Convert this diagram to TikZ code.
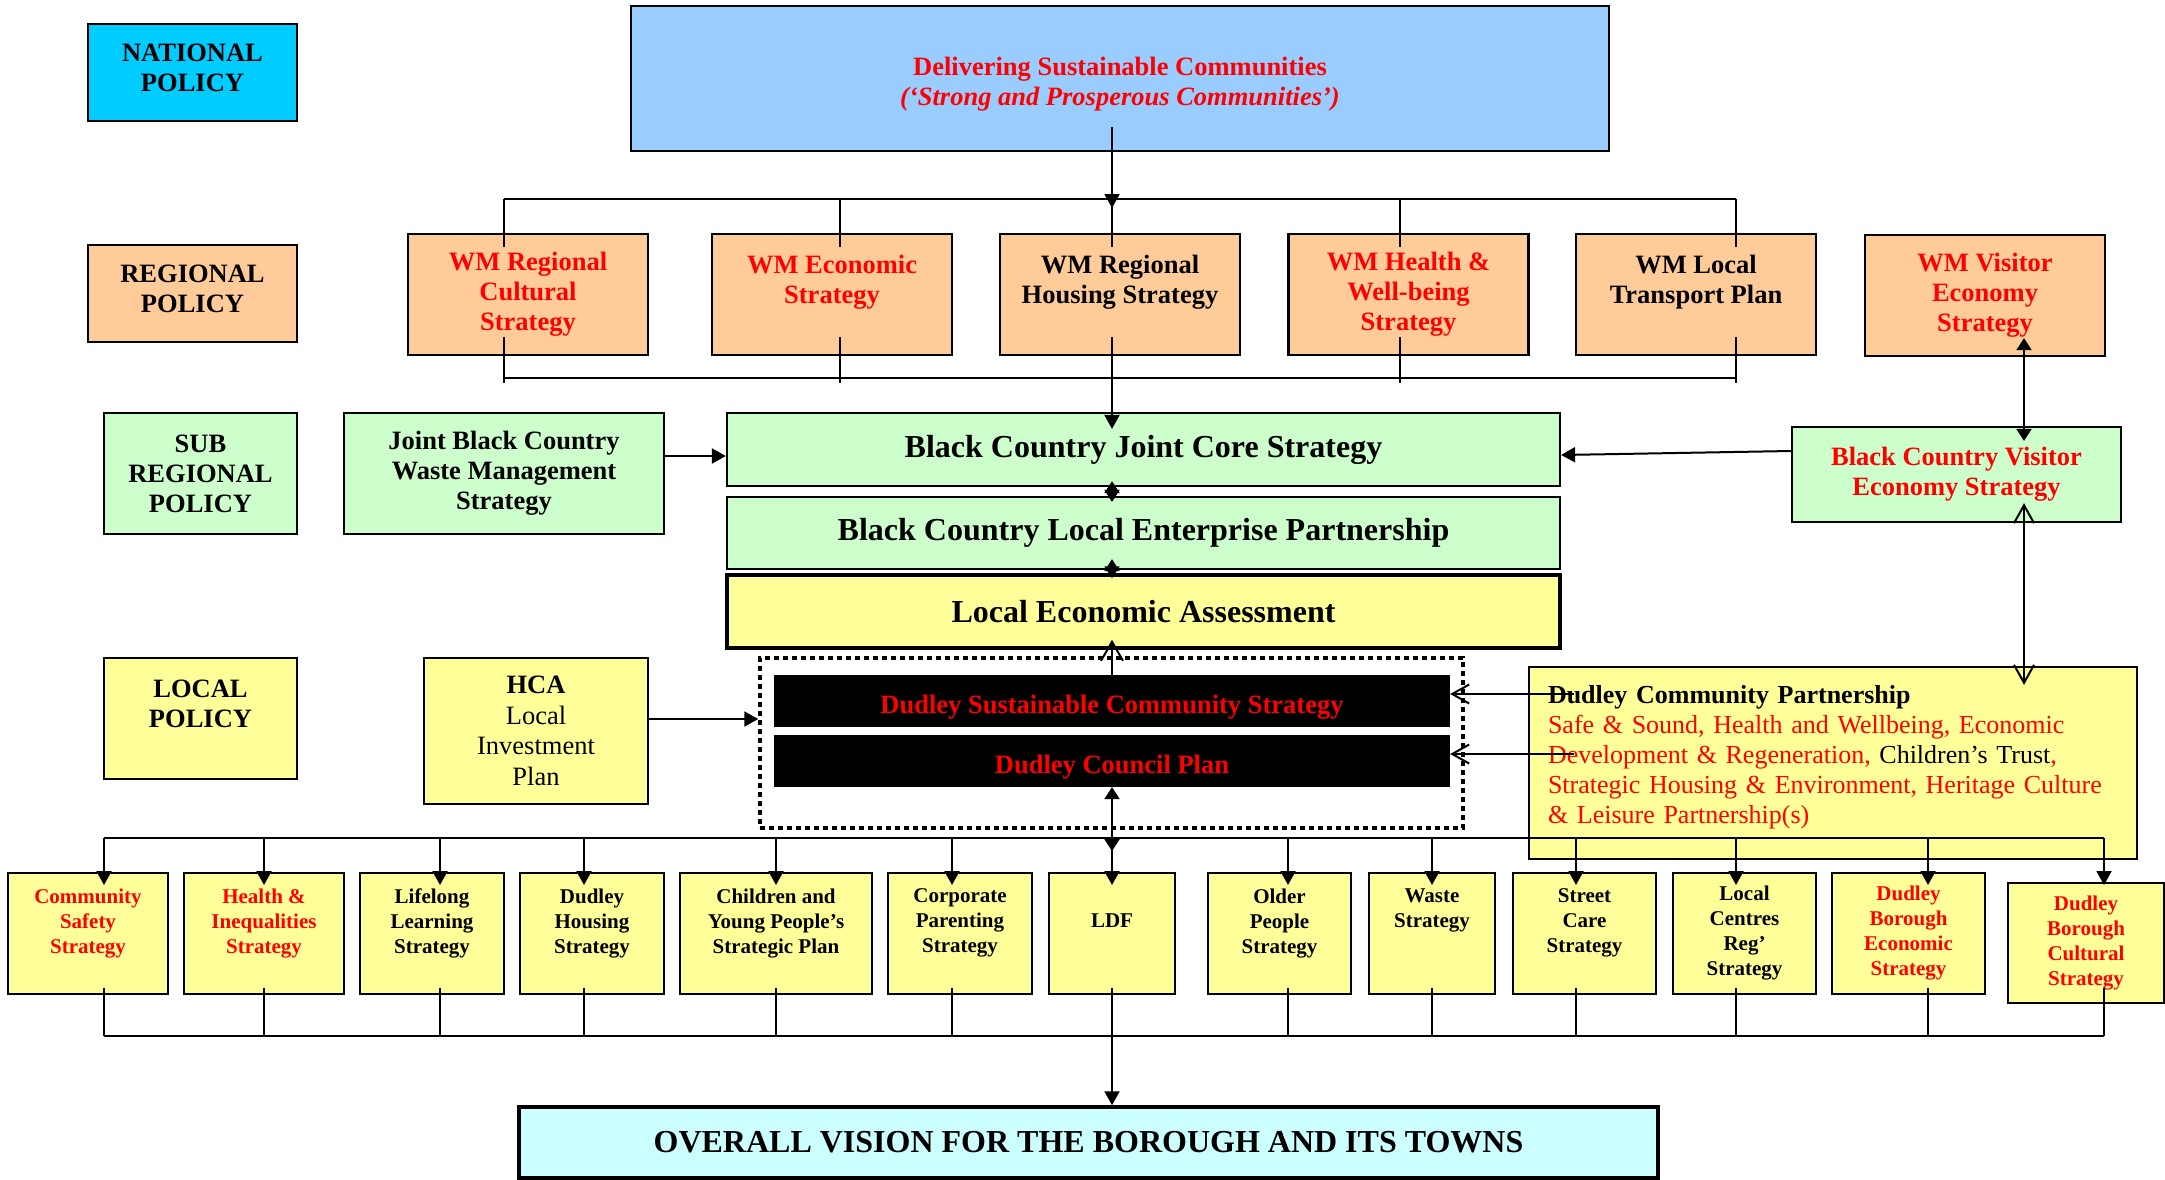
\documentclass[tikz,border=0pt]{standalone}
\usepackage{fontspec}
\setmainfont{Liberation Serif}
\usepackage{tikz}
\usetikzlibrary{arrows.meta}
\definecolor{natblue}{HTML}{00CCFF}
\definecolor{delblue}{HTML}{99CCFF}
\definecolor{peach}{HTML}{FFCC99}
\definecolor{subgreen}{HTML}{CCFFCC}
\definecolor{lyellow}{HTML}{FFFF99}
\definecolor{vision}{HTML}{CCFFFF}
\definecolor{pred}{HTML}{FF0000}
\tikzset{
  every node/.style={inner sep=0pt},
  pbox/.style={draw, line width=2.2pt, align=center,
    font=\fontsize{26.5}{30}\selectfont\bfseries},
  regbox/.style={pbox, fill=peach, minimum width=240pt, minimum height=121pt},
  wide/.style={pbox, minimum width=833pt, minimum height=73pt,
    font=\fontsize{32}{36}\selectfont\bfseries},
  sbox/.style={pbox, fill=lyellow, minimum height=121pt,
    font=\fontsize{21}{25}\selectfont\bfseries},
  conn/.style={line width=2pt},
  bus/.style={line width=2.5pt},
  arr/.style={conn, -{Triangle[length=14pt,width=15pt]}},
  arr2/.style={conn, {Triangle[length=12pt,width=15pt]}-{Triangle[length=12pt,width=15pt]}},
  oarr/.style={conn, -{Straight Barb[length=17pt,width=19pt]}},
  oarr2/.style={conn, {Straight Barb[length=18pt,width=20pt]}-{Straight Barb[length=18pt,width=20pt]}},
}
\begin{document}
\begin{tikzpicture}[x=1pt,y=-1pt]
  \useasboundingbox (0,0) rectangle (2165,1179);
  %
  % policy levels
  \node[pbox, fill=natblue, minimum width=209pt, minimum height=97pt] (nat) at (192.5,72.5) {NATIONAL\\POLICY\\[-20pt]\mbox{}};
  \node[pbox, fill=peach, minimum width=209pt, minimum height=97pt] (reg) at (192.5,293.5) {REGIONAL\\POLICY\\[-20pt]\mbox{}};
  \node[pbox, fill=subgreen, minimum width=193pt, minimum height=121pt] (subreg) at (200.5,473.5) {SUB\\REGIONAL\\POLICY};
  \node[pbox, fill=lyellow, minimum width=193pt, minimum height=121pt] (locpol) at (200.5,718.5) {LOCAL\\POLICY\\\mbox{}};
  %
  \node[pbox, fill=delblue, text=pred, minimum width=978pt, minimum height=145pt] (dsc) at (1120,78.5)
    {\mbox{}\\Delivering Sustainable Communities\\\textit{(‘Strong and Prosperous Communities’)}};
  %
  % regional strategies
  \node[regbox, text=pred] (cult) at (528,294.5) {WM Regional\\Cultural\\Strategy};
  \node[regbox, text=pred] (econ) at (832,294.5) {WM Economic\\Strategy\\\mbox{}};
  \node[regbox] (hous) at (1120,294.5) {WM Regional\\Housing Strategy\\\mbox{}};
  \node[regbox, text=pred] (health) at (1408.5,294.5) {WM Health \&\\Well-being\\Strategy};
  \node[regbox] (trans) at (1696,294.5) {WM Local\\Transport Plan\\\mbox{}};
  \node[regbox, text=pred] (visit) at (1985,295.5) {WM Visitor\\Economy\\Strategy};
  %
  % sub regional
  \node[pbox, fill=subgreen, minimum width=320pt, minimum height=121pt] (waste) at (504,473.5) {Joint Black Country\\Waste Management\\Strategy};
  \node[wide, fill=subgreen] (jcs) at (1143.5,449.5) {Black Country Joint Core Strategy};
  \node[wide, fill=subgreen, minimum height=72pt] (lep) at (1143.5,533) {Black Country Local Enterprise Partnership};
  \node[wide, fill=lyellow, line width=3.5pt] (lea) at (1143.5,611.5) {Local Economic Assessment};
  \node[pbox, fill=subgreen, text=pred, minimum width=329pt, minimum height=95pt] (bcve) at (1956.5,474.5) {Black Country Visitor\\Economy Strategy};
  %
  % local
  \node[pbox, fill=lyellow, minimum width=224pt, minimum height=146pt, font=\fontsize{26.5}{30.5}\selectfont] (hca) at (536,731)
    {\textbf{HCA}\\Local\\Investment\\Plan};
  \node[draw, line width=3.5pt, dash pattern=on 5pt off 4pt, minimum width=703pt, minimum height=170pt] (dudley) at (1111.5,743) {};
  \node[pbox, fill=black, text=pred, minimum width=674pt, minimum height=50pt] (scs) at (1112,701) {\mbox{}\\Dudley Sustainable Community Strategy};
  \node[pbox, fill=black, text=pred, minimum width=674pt, minimum height=50pt] (cplan) at (1112,761) {\mbox{}\\Dudley Council Plan};
  \node[pbox, fill=lyellow, minimum width=608pt, minimum height=192pt, text width=570pt, align=left,
    font=\fontsize{26}{30}\selectfont] (dcp) at (1833,763)
    {\textbf{Dudley Community Partnership}\\
     \textcolor{pred}{Safe \& Sound, Health and Wellbeing, Economic}\\
     \textcolor{pred}{Development \& Regeneration,} Children’s Trust\textcolor{pred}{,}\\
     \textcolor{pred}{Strategic Housing \& Environment, Heritage Culture}\\
     \textcolor{pred}{\& Leisure Partnership(s)}\\[-12pt]\mbox{}};
  %
  % local strategies
  \node[sbox, text=pred, minimum width=160pt] (cs) at (88,933.5) {Community\\Safety\\Strategy\\\mbox{}};
  \node[sbox, text=pred, minimum width=160pt] (hi) at (264,933.5) {Health \&\\Inequalities\\Strategy\\\mbox{}};
  \node[sbox, minimum width=144pt] (ll) at (432,933.5) {Lifelong\\Learning\\Strategy\\\mbox{}};
  \node[sbox, minimum width=144pt] (dh) at (592,933.5) {Dudley\\Housing\\Strategy\\\mbox{}};
  \node[sbox, minimum width=192pt] (cyp) at (776,933.5) {Children and\\Young People’s\\Strategic Plan\\\mbox{}};
  \node[sbox, minimum width=144pt] (cp) at (960,933.5) {Corporate\\Parenting\\Strategy\\\mbox{}};
  \node[sbox, minimum width=126pt] (ldf) at (1112,933.5) {LDF\\\mbox{}};
  \node[sbox, minimum width=143pt] (op) at (1279.5,933.5) {Older\\People\\Strategy\\\mbox{}};
  \node[sbox, minimum width=126pt] (ws) at (1432,933.5) {Waste\\Strategy\\\mbox{}\\\mbox{}};
  \node[sbox, minimum width=143pt] (sc) at (1584.5,933.5) {Street\\Care\\Strategy\\\mbox{}};
  \node[sbox, minimum width=143pt] (lc) at (1744.5,933.5) {Local\\Centres\\Reg’\\Strategy};
  \node[sbox, text=pred, minimum width=153pt] (dbe) at (1908.5,933.5) {Dudley\\Borough\\Economic\\Strategy};
  \node[sbox, text=pred, minimum width=156pt, minimum height=120pt] (dbc) at (2086,943) {Dudley\\Borough\\Cultural\\Strategy};
  %
  \node[pbox, fill=vision, line width=3.5pt, minimum width=1139pt, minimum height=71pt,
    font=\fontsize{32}{36}\selectfont\bfseries] (vision) at (1088.5,1142.5) {OVERALL VISION FOR THE BOROUGH AND ITS TOWNS};
  %
  % regional buses
  \foreach \n/\x in {cult/504, econ/840, hous/1112, health/1400, trans/1736} {
    \coordinate (rt-\n) at (\x,199);
    \coordinate (rb-\n) at (\x,378);
    \draw[conn] (rt-\n) -- ++(0,48);
    \draw[conn] ([shift={(0,5)}]rb-\n) -- ++(0,-46);
  }
  \draw[bus] (rt-cult) -- (rt-trans);
  \draw[bus] (rb-cult) -- (rb-trans);
  \draw[arr] ([shift={(-8,48.5)}]dsc.center) -- ++(0,81);
  \draw[arr] ([shift={(-8,-18)}]hous.south) -- ([shift={(-31.5,17)}]jcs.north);
  %
  % sub regional links
  \draw[arr] ([shift={(0,-17.5)}]waste.east) coordinate (w1) -- (w1 -| jcs.west);
  \draw[arr] ([shift={(0,-23.5)}]bcve.west) -- ([shift={(0,5.5)}]jcs.east);
  \draw[arr2] ([shift={(-31.5,-6)}]jcs.south) -- ([shift={(-31.5,6)}]lep.north);
  \draw[arr2] ([shift={(-31.5,-11)}]lep.south) -- ([shift={(-31.5,5)}]lea.north);
  \draw[conn, -{Straight Barb[length=19pt,width=22pt]}] (scs.north) -- ([shift={(-31.5,-10)}]lea.south);
  \draw[arr2] ([shift={(39,-19)}]visit.south) -- ([shift={(67.5,15)}]bcve.north);
  \draw[oarr2] ([shift={(67.5,-20)}]bcve.south) -- ([shift={(191,19)}]dcp.north);
  %
  % local links
  \draw[arr] ([shift={(0,-12)}]hca.east) coordinate (h1) -- (h1 -| dudley.west);
  \draw[oarr] ([shift={(46,-69)}]dcp.west) coordinate (d1) -- (d1 -| scs.east);
  \draw[oarr] ([shift={(46,-9)}]dcp.west) coordinate (d2) -- (d2 -| cplan.east);
  \draw[arr2] (cplan.south) -- ++(0,64);
  %
  % local strategy buses
  \foreach \n/\x in {cs/104, hi/264, ll/440, dh/584, cyp/776, cp/952, ldf/1112,
                     op/1288, ws/1432, sc/1576, lc/1736, dbe/1928, dbc/2104} {
    \coordinate (top-\n) at (\x,838);
    \coordinate (bot-\n) at (\x,1036);
    \draw[arr] (top-\n) -- ++(0,47);
    \draw[conn] (bot-\n) -- ++(0,-48);
  }
  \draw[bus] (top-cs) -- (top-dbc);
  \draw[bus] (bot-cs) -- (bot-dbc);
  \draw[arr] (bot-ldf) -- (bot-ldf |- vision.north);
\end{tikzpicture}
\end{document}
